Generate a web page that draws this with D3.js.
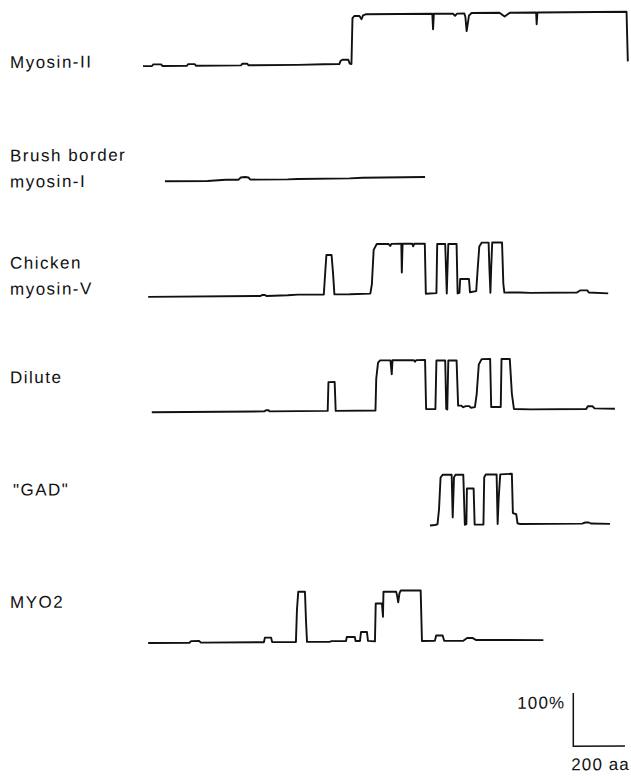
<!DOCTYPE html>
<html>
<head>
<meta charset="utf-8">
<script src="https://cdn.jsdelivr.net/npm/d3@7"></script>
<style>
  body { margin: 0; background: #fff; }
  text { font-family: "Liberation Sans", Arial, sans-serif; font-size: 17px; letter-spacing: 1.5px; fill: #111; }
  .bar text { letter-spacing: 1.1px; }
</style>
</head>
<body>
<svg id="chart"></svg>
<script>
// coiled-coil probability (%) along each sequence, [residue, percent]
const names = ["Myosin-II", "Brush border myosin-I", "Chicken myosin-V", "Dilute", "GAD", "MYO2"];
const labelLines = [["Myosin-II"], ["Brush border", "myosin-I"], ["Chicken", "myosin-V"], ["Dilute"], ["\"GAD\""], ["MYO2"]];

const myosin2 = [[0,0],[35,0],[40,3],[70,3],[75,0],[170,0],[175,3],[200,3],[205,0],[380,0],[384,3],[404,3],[408,0],
  [600,0],[700,1],[760,1],[765,7],[772,9],[795,9],[800,2],[807,1],[811,87],[818,91],[838,91],[846,85],[852,92],[862,94],
  [1120,94],[1123,65],[1126,94],[1200,94],[1208,90],[1216,94],[1244,94],[1248,88],[1253,61],[1262,90],[1272,95],
  [1380,95],[1400,88],[1420,95],[1522,95],[1524,73],[1527,95],[1872,95],[1877,2]];

const brushBorder = [[85,0],[250,0],[320,2],[370,2],[378,6],[395,7],[408,6],[416,2],[560,2],[600,2.5],[800,3],[850,4],[1092,4.5]];

const chickenV = [[20,0],[455,0],[462,2],[470,2],[478,0],[560,1],[600,2],[700,2],[705,40],[710,76],[730,76],[736,40],[741,2],
  [800,2],[880,3],[886,20],[893,85],[905,96],[950,96],[957,92],[962,96],[1000,96],[1002,42],[1005,96],[1042,96],[1046,91],
  [1050,96],[1091,96],[1095,2],[1136,3],[1139,95],[1170,95],[1173,50],[1176,2],[1179,50],[1182,95],[1214,95],[1218,2],
  [1225,3],[1228,29],[1262,29],[1266,4],[1290,6],[1296,50],[1302,90],[1311,97],[1338,97],[1341,50],[1345,3],[1348,50],
  [1352,97],[1390,97],[1395,20],[1399,3],[1460,3],[1500,2],[1680,2],[1692,6],[1720,6],[1726,2],[1801,0]];

const dilute = [[34,0],[470,0],[476,2],[486,2],[490,0],[715,0],[718,54],[742,54],[746,0],[900,0],[903,60],[910,90],[918,94],
  [958,94],[963,68],[966,94],[1048,94],[1053,91],[1058,94],[1092,94],[1096,2],[1132,2],[1136,93],[1170,93],[1174,2],
  [1178,1],[1182,93],[1214,93],[1220,8],[1232,8],[1240,5],[1250,7],[1262,7],[1270,4],[1285,5],[1292,30],[1300,85],
  [1311,95],[1344,95],[1348,5],[1385,5],[1388,95],[1420,95],[1428,30],[1436,1],[1500,0],[1716,0],[1722,5],[1740,5],
  [1748,1],[1827,0]];

const gad = [[1111,0],[1130,1],[1140,2],[1146,30],[1152,90],[1160,95],[1195,95],[1199,15],[1204,90],[1210,95],[1240,95],
  [1246,1],[1252,2],[1254,69],[1280,69],[1284,1],[1318,1],[1321,90],[1327,95],[1369,95],[1373,2],[1377,50],[1383,95],
  [1428,96],[1432,22],[1445,20],[1450,3],[1460,1.5],[1700,1.5],[1712,3.5],[1726,3.5],[1734,1.5],[1808,0.5]];

const myo2 = [[20,0],[180,0],[186,3],[218,3],[224,0],[468,0],[472,8.5],[496,8.5],[500,0],[592,0],[596,60],[601,94],
  [627,94],[631,40],[635,0],[724,0],[730,1],[786,1],[789,8.5],[820,8.5],[823,1],[840,1],[844,17.6],[867,17.6],[871,1],
  [898,0],[901,71],[925,71],[929,46],[931,93],[980,93],[984,85],[988,73],[993,90],[998,95],[1075,95],[1080,0],[1130,0],
  [1135,10],[1160,10],[1166,0],[1240,0],[1255,5],[1275,5],[1290,1],[1550,0]];

const series = [myosin2, brushBorder, chickenV, dilute, gad, myo2];

// scale bar
const barPct = 100, barAa = 200;
const barLabels = ["100%", "200 aa"];

// layout
let width = 631, height = 776;
let labelX = [10, 10, 10, 10, 13, 10];
let labelDy = [1, -21, -29, -30, -33, -36];
let lineGap = 26;

let svg = d3.select("#chart")
    .attr("width", width)
    .attr("height", height);

// the scan is slightly tilted
let g = svg.append("g")
    .attr("transform", "translate(0,2.36) skewY(-0.43)");

let x = d3.scaleLinear().domain([0, 2000]).range([143, 659.6]);
let row = d3.scalePoint().domain(names).range([64.8, 641.8]);
let amp = d3.scaleLinear().domain([0, 100]).range([0, 53.3]);

names.forEach(function(name, i) {
    let line = d3.line()
        .x(function(d) { return x(d[0]); })
        .y(function(d) { return row(name) - amp(d[1]); });

    g.append("path")
        .datum(series[i])
        .attr("d", line)
        .attr("fill", "none")
        .attr("stroke", "#111")
        .attr("stroke-width", 1.9)
        .attr("stroke-linejoin", "round");

    g.selectAll(null)
        .data(labelLines[i])
        .enter()
        .append("text")
        .attr("x", labelX[i])
        .attr("y", function(d, j) { return row(name) + labelDy[i] + j * lineGap; })
        .text(function(d) { return d; });
});

// scale bar: 100% up, 200 aa across
let bar = g.append("g").attr("class", "bar").attr("transform", "translate(573.3,748.3)");
bar.append("path")
    .attr("d", "M0," + (-amp(barPct)) + "V0H" + (x(barAa) - x(0)))
    .attr("fill", "none")
    .attr("stroke", "#111")
    .attr("stroke-width", 1.5);
bar.append("text").attr("x", -56).attr("y", -38).text(barLabels[0]);
bar.append("text").attr("x", -2).attr("y", 24).text(barLabels[1]);
</script>
</body>
</html>
